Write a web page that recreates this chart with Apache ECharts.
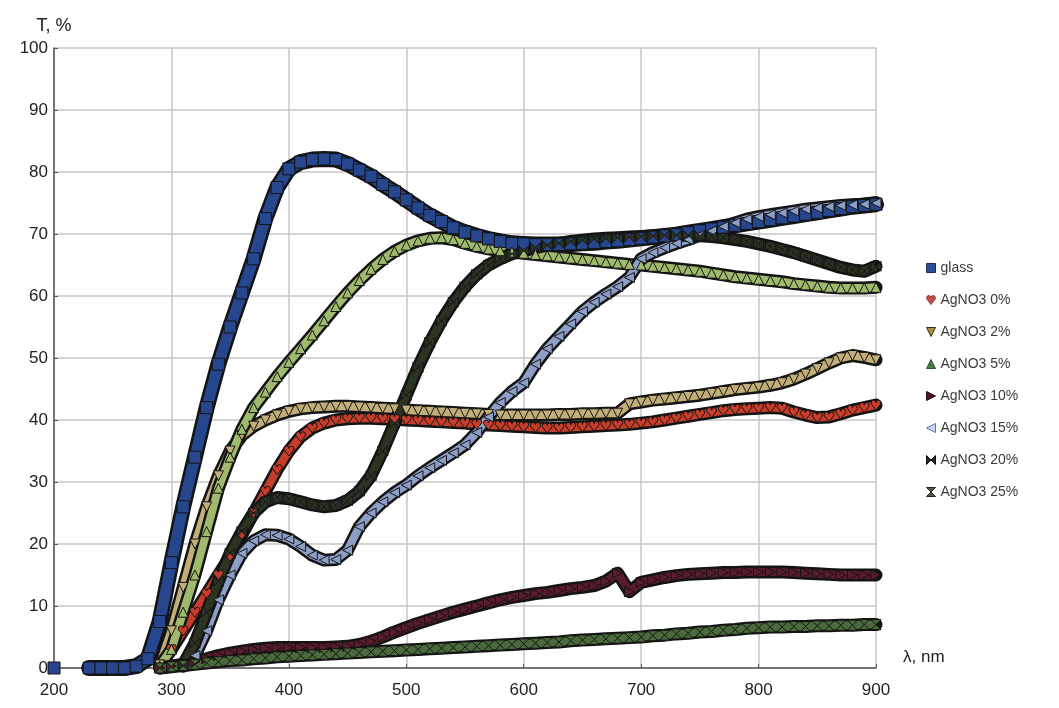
<!DOCTYPE html>
<html>
<head>
<meta charset="utf-8">
<script src="https://cdn.jsdelivr.net/npm/echarts@6/dist/echarts.min.js"></script>
<style>
html,body{margin:0;padding:0;background:#fff;}
#chart{width:1059px;height:708px;}
</style>
</head>
<body>
<div id="chart"></div>
<script>
// wavelength, nm (x categories)
const wavelengths = [200,210,220,230,240,250,260,270,280,290,300,310,320,330,340,350,360,370,380,390,400,410,420,430,440,450,460,470,480,490,500,510,520,530,540,550,560,570,580,590,600,610,620,630,640,650,660,670,680,690,700,710,720,730,740,750,760,770,780,790,800,810,820,830,840,850,860,870,880,890,900];
const xTicks = [200,300,400,500,600,700,800,900];
const yTicks = [0,10,20,30,40,50,60,70,80,90,100];
const seriesNames = ['glass','AgNO3 0%','AgNO3 2%','AgNO3 5%','AgNO3 10%','AgNO3 15%','AgNO3 20%','AgNO3 25%'];

const glass = [0,null,null,0,0,0,0,0.3,1.5,7.5,
 17,26,34,42,49,55,60.5,66,72.5,77.5,
 80.5,81.6,82,82.1,82,81.3,80.3,79.3,78,76.8,
 75.5,74.2,73,72,71,70.3,69.7,69.2,68.8,68.5,
 68.4,68.3,68.3,68.3,68.4,68.5,68.6,68.8,68.9,69.1,
 69.3,69.5,69.7,69.9,70.2,70.5,70.8,71.1,71.4,71.7,
 72,72.3,72.6,72.9,73.2,73.5,73.8,74.1,74.4,74.6,74.8];
const ag0 = [null,null,null,null,null,null,null,null,null,0.5,
 3,6,9,12,15,18,21.5,25,28.5,32,
 35,37.3,38.7,39.5,40,40.2,40.3,40.3,40.2,40.1,
 40,39.9,39.8,39.7,39.6,39.5,39.3,39.2,39.1,39,
 38.9,38.8,38.7,38.7,38.8,38.9,39,39.1,39.2,39.3,
 39.5,39.7,40,40.3,40.6,40.9,41.2,41.5,41.7,41.8,
 41.9,42,41.9,41.3,40.8,40.4,40.5,41,41.6,42,42.4];
const ag2 = [null,null,null,null,null,null,null,null,null,0.5,
 6,13,20,26,31,35,37.5,39,40,40.8,
 41.4,41.8,42,42.1,42.2,42.2,42.1,42,41.9,41.8,
 41.6,41.5,41.4,41.3,41.2,41.1,41,40.9,40.8,40.8,
 40.8,40.8,40.8,40.9,40.9,41,41,41.1,41.1,42.6,
 42.9,43.2,43.4,43.6,43.8,44,44.3,44.6,44.9,45.1,
 45.3,45.6,46,46.6,47.4,48.3,49.2,50,50.4,50.1,49.7];
const ag5 = [null,null,null,null,null,null,null,null,null,0.3,
 3,9,15,22,29,34,38.5,42,44.5,47,
 49.3,51.5,53.7,56,58.3,60.5,62.5,64.3,65.9,67.2,
 68.2,68.9,69.3,69.4,69.1,68.5,68,67.6,67.3,67.1,
 66.9,66.7,66.5,66.3,66.1,65.9,65.7,65.5,65.3,65.1,
 65,64.8,64.6,64.4,64.2,64,63.7,63.4,63.1,62.9,
 62.7,62.5,62.3,62,61.8,61.6,61.4,61.3,61.3,61.3,61.4];
const ag10 = [null,null,null,null,null,null,null,null,null,0,
 0.3,0.6,1,1.5,2,2.4,2.7,3,3.2,3.3,
 3.3,3.3,3.3,3.3,3.4,3.5,3.8,4.3,5,5.8,
 6.5,7.2,7.8,8.4,9,9.5,10,10.5,11,11.4,
 11.7,12,12.2,12.5,12.8,13,13.3,14,15.3,12.3,
 13.8,14.2,14.6,14.9,15.1,15.2,15.3,15.4,15.4,15.5,
 15.5,15.5,15.5,15.4,15.3,15.2,15.1,15,15,15,15];
const ag15 = [null,null,null,null,null,null,null,null,null,null,
 null,0.3,2,6,11,15,18.5,20.5,21.5,21.4,
 20.8,19.6,18.2,17.4,17.5,19,22.8,25,26.8,28.3,
 29.5,31,32.3,33.5,34.7,36,38,40.5,42.8,44.6,
 46,49,51.5,53.5,55.5,57.5,59,60.3,61.5,63,
 66,67,67.8,68.5,69.1,69.8,70.5,71.2,71.8,72.4,
 72.8,73.1,73.4,73.7,74,74.2,74.4,74.6,74.7,74.8,75];
const ag20 = [null,null,null,null,null,null,null,null,null,null,
 null,0.5,4,9,14,18.5,22,25,26.8,27.5,
 27.3,26.8,26.3,26,26.2,27,28.5,31,35,39.5,
 44,48.5,52.5,56,59,61.5,63.5,65,66,66.8,
 67.3,67.8,68.2,68.5,68.8,69,69.2,69.3,69.4,69.5,
 69.6,69.7,69.8,69.8,69.8,69.7,69.6,69.4,69.1,68.8,
 68.4,68,67.5,67,66.4,65.8,65.2,64.6,64.2,64,64.8];
const ag25 = [null,null,null,null,null,null,null,null,null,0,
 0.2,0.4,0.6,0.8,1,1.2,1.3,1.5,1.6,1.8,
 1.9,2,2.1,2.2,2.3,2.4,2.5,2.6,2.7,2.8,
 2.9,3,3.1,3.2,3.3,3.4,3.5,3.6,3.7,3.8,
 3.9,4,4.1,4.2,4.4,4.5,4.6,4.7,4.8,4.9,
 5,5.2,5.3,5.5,5.6,5.8,5.9,6.1,6.2,6.4,
 6.5,6.6,6.6,6.7,6.7,6.8,6.8,6.9,6.9,7,7];

const allValues = [glass, ag0, ag2, ag5, ag10, ag15, ag20, ag25];

// styling
const fills   = ['#26468e','#c63d2c','#c2ae78','#9fba6c','#5a1c2a','#8d9fc6','#2b3323','#4b6a3c'];
const legendColors = ['#2b4f9c','#c0504a','#a89040','#3e7e44','#4a1830','#c8d4ec','#2a2a2a','#4d5c42'];
const legendBorders = ['#1a2a50','#a03830','#3a3010','#2a5a2e','#2a0818','#5a78b8','#111','#222'];
const shapes = [
 'rect',
 'path://M5,10 L0,3.5 Q0,0 2.5,0 Q5,0 5,2.5 Q5,0 7.5,0 Q10,0 10,3.5 Z',
 'path://M0,0 L10,0 L5,10 Z',
 'triangle',
 'path://M0,0 L10,5 L0,10 Z',
 'path://M10,0 L0,5 L10,10 Z',
 'path://M0,0 L5,5 L0,10 Z M10,0 L5,5 L10,10 Z',
 'path://M0,0 L10,0 L5,5 Z M0,10 L10,10 L5,5 Z'
];
const outlineW = [16,13,13,13,13,13,13,13];
const innerW   = [11,8,8,8,8,8,8,8];
const symSize  = [12,10,10,10,10,10,10,10];

function pairs(vals){ return wavelengths.map((w,i)=>[w, vals[i]]); }

const series = [];
allValues.forEach((vals, k) => {
  series.push({
    name: 'outline ' + seriesNames[k],
    type: 'line',
    data: pairs(vals),
    showSymbol: false,
    clip: false,
    silent: true,
    lineStyle: {color: '#141414', width: outlineW[k], join: 'round', cap: 'round'},
    itemStyle: {color: '#141414'},
    z: 2
  });
  series.push({
    name: seriesNames[k],
    type: 'line',
    data: pairs(vals),
    showSymbol: true,
    symbol: shapes[k],
    symbolSize: symSize[k],
    clip: false,
    lineStyle: {color: fills[k], width: innerW[k], join: 'round'},
    itemStyle: {color: fills[k], borderColor: '#141414', borderWidth: 1},
    z: 2
  });
});

const font = "'Liberation Sans', Arial, sans-serif";

const chart = echarts.init(document.getElementById('chart'));
chart.setOption({
  animation: false,
  backgroundColor: '#ffffff',
  grid: {left: 54, right: 183, top: 48, bottom: 40, containLabel: false},
  legend: {
    orient: 'vertical',
    left: 926,
    top: 261,
    padding: 0,
    itemWidth: 9,
    itemHeight: 9,
    itemGap: 18,
    textStyle: {fontFamily: font, fontSize: 14, color: '#3a3a3a'},
    data: seriesNames.map((n, k) => ({
      name: n,
      icon: shapes[k],
      itemStyle: {color: legendColors[k], borderColor: legendBorders[k], borderWidth: 1}
    }))
  },
  xAxis: {
    type: 'value',
    min: 200, max: 900, interval: 100,
    name: 'λ, nm',
    nameLocation: 'end',
    nameGap: 27,
    nameTextStyle: {fontFamily: font, fontSize: 17, color: '#222', verticalAlign: 'bottom', padding: [0,0,2,0]},
    axisLine: {show: true, lineStyle: {color: '#555', width: 1.5}},
    axisTick: {show: true, inside: true, length: 4, lineStyle: {color: '#555'}},
    axisLabel: {fontFamily: font, fontSize: 17, color: '#222', margin: 14,
      formatter: v => xTicks.includes(v) ? String(v) : ''},
    splitLine: {show: true, lineStyle: {color: '#c6c6c6', width: 1.5}}
  },
  yAxis: {
    type: 'value',
    min: 0, max: 100, interval: 10,
    name: 'T, %',
    nameLocation: 'end',
    nameGap: 13,
    nameTextStyle: {fontFamily: font, fontSize: 18, color: '#222'},
    axisLine: {show: true, lineStyle: {color: '#555', width: 1.5}},
    axisTick: {show: true, inside: true, length: 4, lineStyle: {color: '#555'}},
    axisLabel: {fontFamily: font, fontSize: 17, color: '#222', margin: 6,
      formatter: v => yTicks.includes(v) ? String(v) : ''},
    splitLine: {show: true, lineStyle: {color: '#c6c6c6', width: 1.5}}
  },
  series: series
});
</script>
</body>
</html>
